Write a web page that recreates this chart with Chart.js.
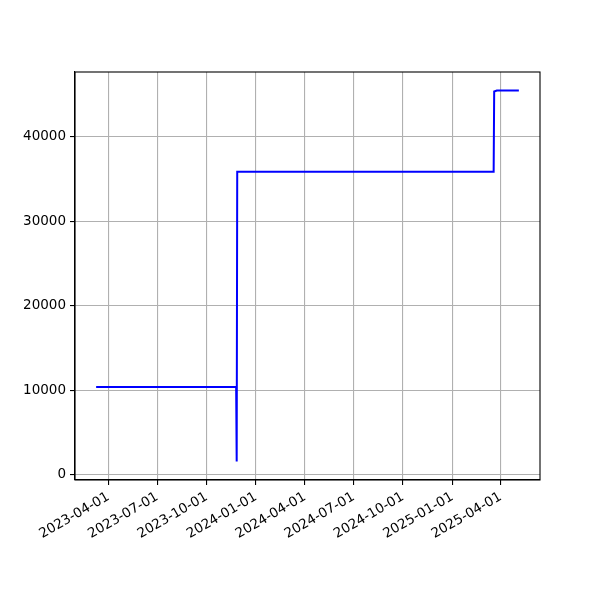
<!DOCTYPE html>
<html>
<head>
<meta charset="utf-8">
<script src="https://cdn.jsdelivr.net/npm/chart.js@4"></script>
<style>
  html, body { margin: 0; padding: 0; background: #fff; }
  #wrap { width: 600px; height: 600px; }
</style>
</head>
<body>
<div id="wrap"><canvas id="canvas" width="600" height="600"></canvas></div>
<script>
// series (step-like values)
var dates = ['2023-03-09', '2023-11-25', '2023-11-26', '2023-11-27', '2025-03-19', '2025-03-20', '2025-03-25', '2025-05-05'];
var values = [10400, 10400, 1600, 35830, 35830, 45300, 45420, 45420];

var xTickLabels = ['2023-04-01', '2023-07-01', '2023-10-01', '2024-01-01', '2024-04-01',
                   '2024-07-01', '2024-10-01', '2025-01-01', '2025-04-01'];
var yTickValues = [0, 10000, 20000, 30000, 40000];

function toMs(s) {
    var p = s.split('-');
    return Date.UTC(+p[0], +p[1] - 1, +p[2]);
}
function fmt(ms) {
    var d = new Date(ms);
    var m = d.getUTCMonth() + 1, day = d.getUTCDate();
    return d.getUTCFullYear() + '-' + (m < 10 ? '0' : '') + m + '-' + (day < 10 ? '0' : '') + day;
}

var points = dates.map(function(d, i) {
    return { x: toMs(d), y: values[i] };
});

// matplotlib-like 5% margins
var xs = points.map(function(p) { return p.x; });
var ys = values;
var xMin = Math.min.apply(null, xs), xMax = Math.max.apply(null, xs);
var yMin = Math.min.apply(null, ys), yMax = Math.max.apply(null, ys);
var xPad = (xMax - xMin) * 0.05, yPad = (yMax - yMin) * 0.05;

var frame = {
    id: 'frame',
    afterDraw: function(chart) {
        var a = chart.chartArea, c = chart.ctx;
        c.save();
        c.strokeStyle = '#000';
        c.lineWidth = 1.1;
        c.strokeRect(a.left, a.top, a.right - a.left, a.bottom - a.top);
        c.restore();
    }
};

var font = { family: 'DejaVu Sans', size: 13.5 };

var ctx = document.getElementById('canvas').getContext('2d');
var config = {
    type: 'line',
    data: {
        datasets: [{
            data: points,
            borderColor: '#0000ff',
            borderWidth: 2,
            pointRadius: 0,
            tension: 0,
            fill: false
        }]
    },
    options: {
        responsive: false,
        animation: false,
        layout: { padding: { top: 72, right: 60, left: 0, bottom: 0 } },
        plugins: { legend: { display: false }, tooltip: { enabled: false } },
        scales: {
            x: {
                type: 'linear',
                min: xMin - xPad,
                max: xMax + xPad,
                afterBuildTicks: function(axis) {
                    axis.ticks = xTickLabels.map(function(t) { return { value: toMs(t) }; });
                },
                afterFit: function(axis) { axis.height = 120; },
                ticks: {
                    color: '#000',
                    font: font,
                    minRotation: 30,
                    maxRotation: 30,
                    autoSkip: false,
                    padding: 4,
                    callback: function(v) { return fmt(v); }
                },
                grid: { color: '#b0b0b0', lineWidth: 1.1, tickColor: '#000', tickLength: 5, drawOnChartArea: true },
                border: { color: '#000', width: 1.1 }
            },
            y: {
                type: 'linear',
                min: yMin - yPad,
                max: yMax + yPad,
                afterBuildTicks: function(axis) {
                    axis.ticks = yTickValues.map(function(v) { return { value: v }; });
                },
                afterFit: function(axis) { axis.width = 75; },
                ticks: {
                    color: '#000',
                    font: font,
                    padding: 4,
                    callback: function(v) { return String(v); }
                },
                grid: { color: '#b0b0b0', lineWidth: 1.1, tickColor: '#000', tickLength: 5 },
                border: { color: '#000', width: 1.1 }
            }
        }
    },
    plugins: [frame]
};

var chart = new Chart(ctx, config);
</script>
</body>
</html>
